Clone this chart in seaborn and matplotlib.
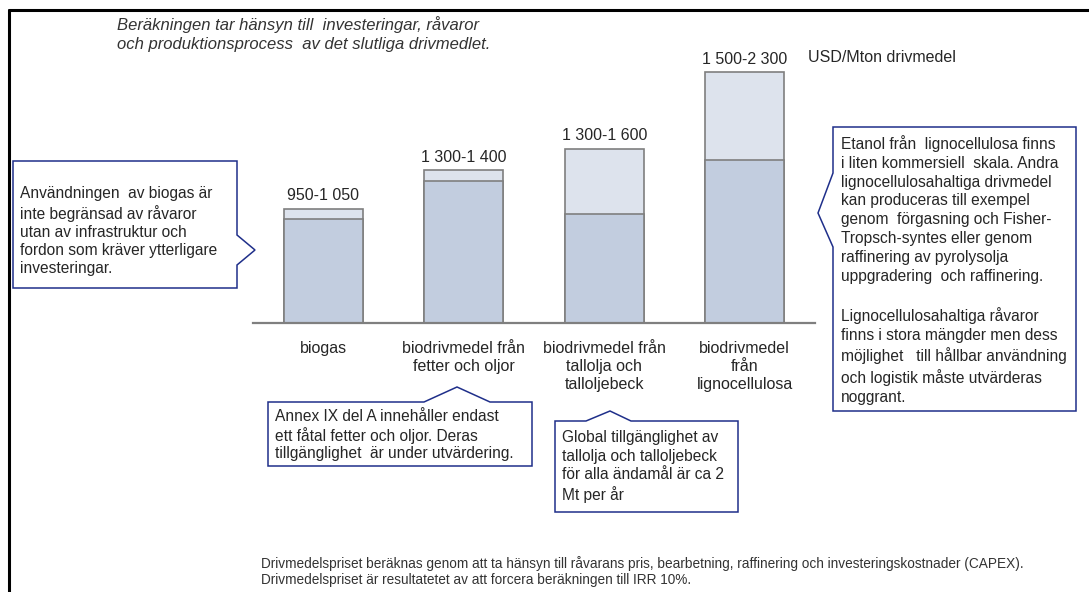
import matplotlib
matplotlib.use("Agg")
import matplotlib.pyplot as plt
from matplotlib.patches import Polygon
from matplotlib.lines import Line2D
import seaborn as sns
import pandas as pd

# ---------------- data ----------------
categories = ["biogas",
              "biodrivmedel från\nfetter och oljor",
              "biodrivmedel från\ntallolja och\ntalloljebeck",
              "biodrivmedel\nfrån\nlignocellulosa"]
low_values = [950, 1300, 1000, 1500]
high_values = [1050, 1400, 1600, 2300]
range_labels = ["950-1 050", "1 300-1 400", "1 300-1 600", "1 500-2 300"]
unit_label = "USD/Mton drivmedel"

top_note = ("Beräkningen tar hänsyn till  investeringar, råvaror\n"
            "och produktionsprocess  av det slutliga drivmedlet.")
bottom_note = ("Drivmedelspriset beräknas genom att ta hänsyn till råvarans pris, bearbetning, "
               "raffinering och investeringskostnader (CAPEX).\n"
               "Drivmedelspriset är resultatetet av att forcera beräkningen till IRR 10%.")
note_biogas = ("Användningen  av biogas är\ninte begränsad av råvaror\nutan av infrastruktur och\n"
               "fordon som kräver ytterligare\ninvesteringar.")
note_fats = ("Annex IX del A innehåller endast\nett fåtal fetter och oljor. Deras\n"
             "tillgänglighet  är under utvärdering.")
note_tall = ("Global tillgänglighet av\ntallolja och talloljebeck\nför alla ändamål är ca 2\nMt per år")
note_ligno = ("Etanol från  lignocellulosa finns\ni liten kommersiell  skala. Andra\n"
              "lignocellulosahaltiga drivmedel\nkan produceras till exempel\n"
              "genom  förgasning och Fisher-\nTropsch-syntes eller genom\n"
              "raffinering av pyrolysolja\nuppgradering  och raffinering.\n\n"
              "Lignocellulosahaltiga råvaror\nfinns i stora mängder men dess\n"
              "möjlighet   till hållbar användning\noch logistik måste utvärderas\nnoggrant.")

# ---------------- style ----------------
sns.set_theme(style="white")
plt.rcParams["font.family"] = ["Liberation Sans", "DejaVu Sans"]

W, H = 1089, 592
fig = plt.figure(figsize=(W / 100, H / 100), dpi=100)
fig.patch.set_facecolor("white")

def fx(x):
    return x / W

def fy(y):
    return 1 - y / H

# axes: baseline at y=323 px, x from 253 to 815 px, top at 40 px
ax_left, ax_right, ax_bottom, ax_top = 253, 815, 323, 40
ax = fig.add_axes([fx(ax_left), fy(ax_bottom), (ax_right - ax_left) / W,
                   (ax_bottom - ax_top) / H])

df = pd.DataFrame({"category": categories, "low": low_values, "high": high_values})

LIGHT = "#DDE3ED"
DARK = "#C2CDDF"
EDGE = "#7F7F7F"
NAVY = "#1F2F8A"
TXT = "#262626"

sns.barplot(data=df, x="category", y="high", color=LIGHT, saturation=1,
            width=0.565, edgecolor=EDGE, linewidth=1.2, ax=ax)
sns.barplot(data=df, x="category", y="low", color=DARK, saturation=1,
            width=0.565, edgecolor=EDGE, linewidth=1.2, ax=ax)

ax.set_xlim(-0.5, 3.5)
ax.set_ylim(0, (ax_bottom - ax_top) / 0.109)
ax.set_xlabel("")
ax.set_ylabel("")
ax.set_yticks([])
ax.set_facecolor("none")
for s in ["top", "right", "left"]:
    ax.spines[s].set_visible(False)
ax.spines["bottom"].set_color(EDGE)
ax.spines["bottom"].set_linewidth(1.6)
ax.set_xticks(range(len(categories)))
ax.set_xticklabels(categories, fontsize=11.5, color=TXT, linespacing=1.24)
ax.tick_params(axis="x", length=0, pad=13)

for i, (v, lab) in enumerate(zip(high_values, range_labels)):
    ax.annotate(lab, (i, v), xytext=(0, 4), textcoords="offset points",
                ha="center", va="bottom", fontsize=11.5, color=TXT)

fig.text(fx(808), fy(58), unit_label, ha="left", va="center", fontsize=11.5, color=TXT)

# top note
fig.text(fx(117), fy(16), top_note, ha="left", va="top", fontsize=12,
         style="italic", color="#333333", linespacing=1.3)

# bottom note
fig.text(fx(261), fy(556), bottom_note, ha="left", va="top", fontsize=9.8,
         color="#333333", linespacing=1.2)

# ---------------- callouts ----------------
def callout(pts, text, tx, ty, ls, fs=11.2):
    poly = Polygon([(fx(x), fy(y)) for x, y in pts], closed=True,
                   transform=fig.transFigure, facecolor="white",
                   edgecolor=NAVY, linewidth=1.1, zorder=5)
    fig.add_artist(poly)
    fig.text(fx(tx), fy(ty), text, ha="left", va="top", fontsize=fs,
             color=TXT, linespacing=ls, zorder=6)

# left (biogas) – pointer on the right side
callout([(13, 161), (237, 161), (237, 235), (255, 250), (237, 265),
         (237, 288), (13, 288)], note_biogas, 20, 186, 1.27)
# fats – pointer on top
callout([(268, 402), (424, 402), (457, 387), (490, 402), (532, 402),
         (532, 466), (268, 466)], note_fats, 275, 409, 1.2)
# tall oil – pointer on top
callout([(555, 421), (586, 421), (610, 411), (631, 421), (738, 421),
         (738, 512), (555, 512)], note_tall, 562, 430, 1.3)
# lignocellulose – pointer on the left side
callout([(833, 127), (1076, 127), (1076, 411), (833, 411), (833, 247),
         (818, 213), (833, 173)], note_ligno, 841, 135, 1.32)

# frame lines (top and left)
fig.add_artist(Line2D([fx(9), fx(1089)], [fy(10), fy(10)], color="black",
                      linewidth=2.2, transform=fig.transFigure))
fig.add_artist(Line2D([fx(9), fx(9)], [fy(10), fy(592)], color="black",
                      linewidth=2.2, transform=fig.transFigure))

fig.savefig("out.png", dpi=100)
